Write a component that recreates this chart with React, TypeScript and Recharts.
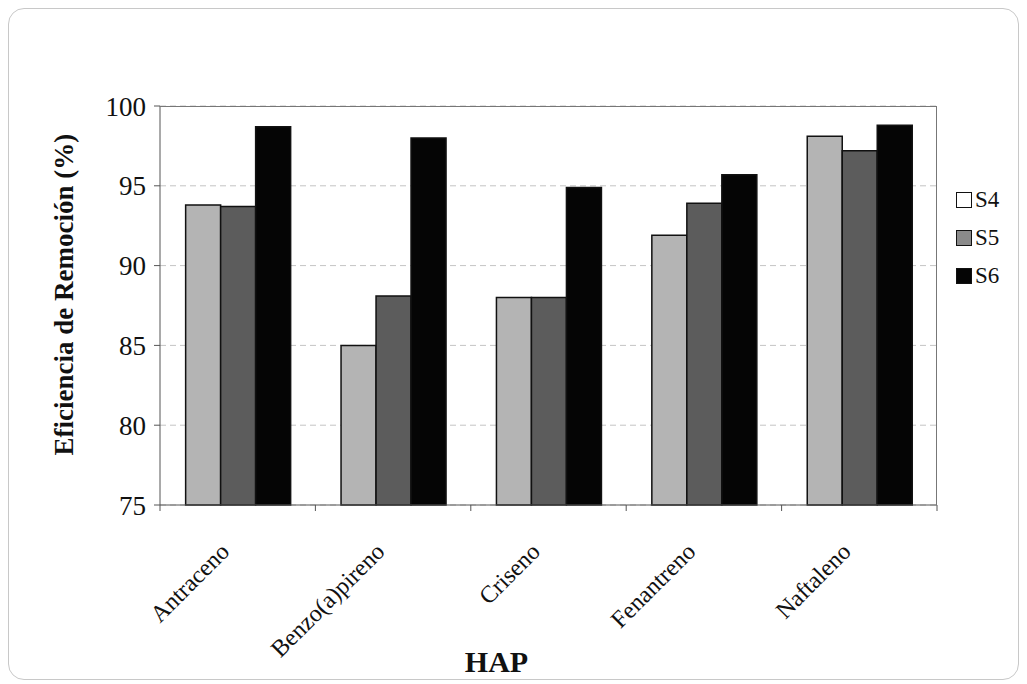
import { BarChart, Bar, XAxis, YAxis, CartesianGrid } from 'recharts';

const categories = ['Antraceno', 'Benzo(a)pireno', 'Criseno', 'Fenantreno', 'Naftaleno'];
const s4 = [93.8, 85.0, 88.0, 91.9, 98.1];
const s5 = [93.7, 88.1, 88.0, 93.9, 97.2];
const s6 = [98.7, 98.0, 94.9, 95.7, 98.8];
const yTicks = [75, 80, 85, 90, 95, 100];

const data = categories.map((name, i) => ({ name, S4: s4[i], S5: s5[i], S6: s6[i] }));

const W = 1027;
const H = 684;
const M = { top: 106, right: 90, bottom: 29, left: 100 };
const Y_AXIS_W = 60;
const X_AXIS_H = 150;
const plotW = W - M.left - M.right - Y_AXIS_W;
const plotH = H - M.top - M.bottom - X_AXIS_H;
const half = plotW / categories.length / 2;
const font = '"Liberation Serif", "DejaVu Serif", serif';

const series = [
  { key: 'S4', fill: '#b4b4b4', legend: '#ffffff' },
  { key: 'S5', fill: '#5c5c5c', legend: '#8a8a8a' },
  { key: 'S6', fill: '#050505', legend: '#050505' },
];

const CatTick = (props: any) => {
  const { x, y, payload, index } = props;
  const last = index === categories.length - 1;
  return (
    <g>
      <line x1={x - half} y1={y - 8} x2={x - half} y2={y - 2} stroke="#555" />
      {last && <line x1={x + half} y1={y - 8} x2={x + half} y2={y - 2} stroke="#555" />}
      <g transform={`translate(${x - 7},${y + 40}) rotate(-45)`}>
        <text textAnchor="end" fontSize={24} fill="#111" fontFamily={font}>
          {payload.value}
        </text>
      </g>
    </g>
  );
};

export default function App() {
  return (
    <div style={{ position: 'absolute', left: 0, top: 0, width: W, height: H, background: '#fff' }}>
      <div
        style={{
          position: 'absolute',
          left: 8,
          top: 8,
          width: W - 18,
          height: H - 14,
          border: '1px solid #c8c8c8',
          borderRadius: 16,
        }}
      />
      <div style={{ position: 'absolute', left: 0, top: 0 }}>
        <BarChart width={W} height={H} data={data} margin={M} barGap={0} barCategoryGap="16.5%">
          <CartesianGrid vertical={false} stroke="#c4c4c4" strokeDasharray="6 4" />
          <XAxis
            dataKey="name"
            height={X_AXIS_H}
            interval={0}
            tickLine={false}
            axisLine={{ stroke: '#555' }}
            tick={<CatTick />}
            label={{
              value: 'HAP',
              position: 'insideBottom',
              offset: -17,
              dx: -52,
              fontSize: 30,
              fontWeight: 'bold',
              fill: '#111',
              fontFamily: font,
            }}
          />
          <YAxis
            width={Y_AXIS_W}
            domain={[75, 100]}
            ticks={yTicks}
            interval={0}
            axisLine={{ stroke: '#555' }}
            tickLine={{ stroke: '#555' }}
            tickSize={6}
            tickMargin={8}
            tick={{ fontSize: 27, fill: '#111', fontFamily: font }}
            label={{
              value: 'Eficiencia de Remoción (%)',
              angle: -90,
              position: 'insideLeft',
              offset: -37,
              dy: 150,
              fontSize: 27,
              fontWeight: 'bold',
              fill: '#111',
              fontFamily: font,
            }}
          />
          {series.map((s) => (
            <Bar key={s.key} dataKey={s.key} fill={s.fill} stroke="#111" strokeWidth={1.5} isAnimationActive={false} />
          ))}
        </BarChart>
      </div>
      <div
        style={{
          position: 'absolute',
          left: M.left + Y_AXIS_W,
          top: M.top,
          width: plotW,
          height: plotH,
          borderTop: '1px solid #777',
          borderRight: '1px solid #777',
          boxSizing: 'border-box',
          pointerEvents: 'none',
        }}
      />
      <div style={{ position: 'absolute', left: 956, top: 181, fontFamily: font, fontSize: 23, color: '#111' }}>
        {series.map((s) => (
          <div key={s.key} style={{ display: 'flex', alignItems: 'center', height: 38 }}>
            <span
              style={{
                display: 'inline-block',
                width: 14,
                height: 14,
                background: s.legend,
                border: '1.5px solid #111',
                marginRight: 3,
              }}
            />
            {s.key}
          </div>
        ))}
      </div>
    </div>
  );
}
